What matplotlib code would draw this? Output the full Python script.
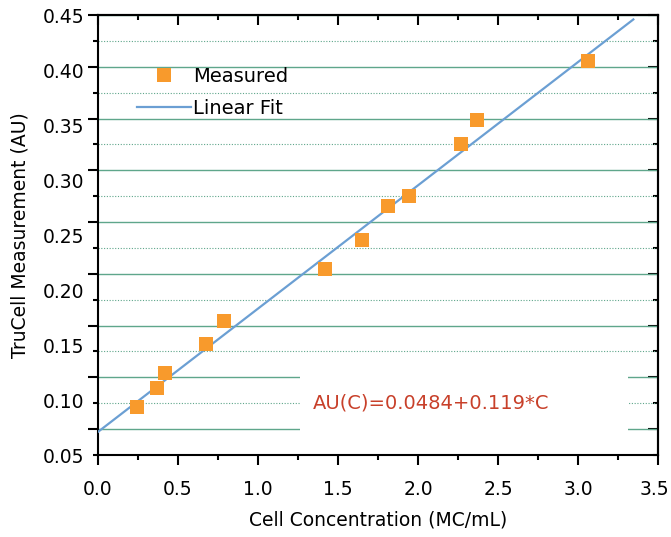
import numpy as np
import matplotlib
matplotlib.use("Agg")
import matplotlib.pyplot as plt
import matplotlib.ticker as ticker
import matplotlib.transforms as mtransforms
from matplotlib.patches import Rectangle

# Measured points (cell concentration vs TruCell reading)
conc = [0.244, 0.369, 0.419, 0.675, 0.788, 1.419, 1.650, 1.813, 1.944, 2.269, 2.369, 3.063]
au = [0.094, 0.111, 0.1245, 0.151, 0.172, 0.219, 0.2455, 0.276, 0.2855, 0.333, 0.3545, 0.408]

# Linear fit line as drawn (end points)
fit_c = [0.0, 3.346]
fit_au = [0.071, 0.446]

fit_text = "AU(C)=0.0484+0.119*C"
x_ticks = [0.0, 0.5, 1.0, 1.5, 2.0, 2.5, 3.0, 3.5]
y_labels = [0.05, 0.10, 0.15, 0.20, 0.25, 0.30, 0.35, 0.40, 0.45]

plt.rcParams["font.family"] = ["DejaVu Sans"]

fig = plt.figure(figsize=(6.71, 5.37), dpi=100)
ax = fig.add_axes([0.146, 0.1527, 0.8346, 0.8193])
ax.set_xlim(0, 3.5)
ax.set_ylim(0.05, 0.45)

# tick marks / grid on a 17-step grid, alternating long (solid) and short (dotted)
grid_pos = np.linspace(0.05, 0.45, 18)
long_pos = grid_pos[1::2]
short_pos = grid_pos[0::2]

ax.yaxis.set_major_locator(ticker.FixedLocator(long_pos))
ax.yaxis.set_minor_locator(ticker.FixedLocator(short_pos))
ax.yaxis.set_major_formatter(ticker.NullFormatter())
ax.xaxis.set_major_locator(ticker.FixedLocator(x_ticks))
ax.xaxis.set_minor_locator(ticker.MultipleLocator(0.25))
ax.set_xticklabels([f"{v:.1f}" for v in x_ticks])

ax.set_axisbelow(True)
ax.grid(True, axis="y", which="major", color="#5fa68b", linewidth=1.0, linestyle="-")
ax.grid(True, axis="y", which="minor", color="#5fa68b", linewidth=0.8, linestyle=(0, (1, 1.5)))

for s in ax.spines.values():
    s.set_linewidth(1.5)

ax.tick_params(axis="both", which="major", direction="out", length=7.2, width=1.5,
               labelsize=13.5)
ax.tick_params(axis="x", which="major", pad=11)
ax.tick_params(axis="both", which="minor", direction="out", length=3.6, width=1.5)
ax.tick_params(axis="y", which="both", right=False)

# nudge the last x label so it stays inside the figure
last = ax.get_xticklabels()[-1]
last.set_transform(last.get_transform() +
                   mtransforms.ScaledTranslation(-4 / 100, 0, fig.dpi_scale_trans))

# top and right ticks point inward
top = ax.secondary_xaxis("top")
top.xaxis.set_major_locator(ticker.FixedLocator(x_ticks))
top.xaxis.set_minor_locator(ticker.MultipleLocator(0.25))
top.tick_params(which="major", direction="in", length=7.2, width=1.5, labeltop=False)
top.tick_params(which="minor", direction="in", length=3.6, width=1.5)
top.spines["top"].set_linewidth(1.5)

right = ax.secondary_yaxis("right")
right.yaxis.set_major_locator(ticker.FixedLocator(long_pos))
right.yaxis.set_minor_locator(ticker.FixedLocator(short_pos))
right.tick_params(which="major", direction="in", length=7.2, width=1.5, labelright=False)
right.tick_params(which="minor", direction="in", length=3.6, width=1.5)
right.spines["right"].set_linewidth(1.5)

# value labels on the left
ylab = ax.secondary_yaxis("left")
ylab.yaxis.set_major_locator(ticker.FixedLocator(y_labels))
ylab.yaxis.set_minor_locator(ticker.NullLocator())
ylab.set_yticklabels([f"{v:.2f}" for v in y_labels])
ylab.tick_params(length=0, labelsize=13.5, pad=10)
ylab.spines["left"].set_visible(False)
ylab.set_ylabel("TruCell Measurement (AU)", fontsize=13.5, labelpad=9)

ax.set_xlabel("Cell Concentration (MC/mL)", fontsize=13.5, labelpad=8)

# fit line and points
ax.plot(fit_c, fit_au, color="#6b9fd3", linewidth=1.6, label="Linear Fit", zorder=3)
ax.plot(conc, au, linestyle="none", marker="s", markersize=9.5, color="#f89a2c",
        markeredgewidth=0, label="Measured", zorder=4)

# white box behind the fit equation
ax.add_patch(Rectangle((1.26, 0.064), 2.05, 0.068, facecolor="white",
                       edgecolor="none", zorder=1))
ax.text(1.345, 0.0975, fit_text, color="#c8402a", fontsize=14, va="center",
        ha="left", zorder=2)

handles, labels = ax.get_legend_handles_labels()
order = [1, 0]
ax.legend([handles[i] for i in order], [labels[i] for i in order],
          loc="upper left", bbox_to_anchor=(0.0696, 0.882), frameon=False,
          borderpad=0, borderaxespad=0, handlelength=2.8, handletextpad=0.1,
          labelspacing=0.65, fontsize=14)

fig.savefig("out.png", dpi=100)
